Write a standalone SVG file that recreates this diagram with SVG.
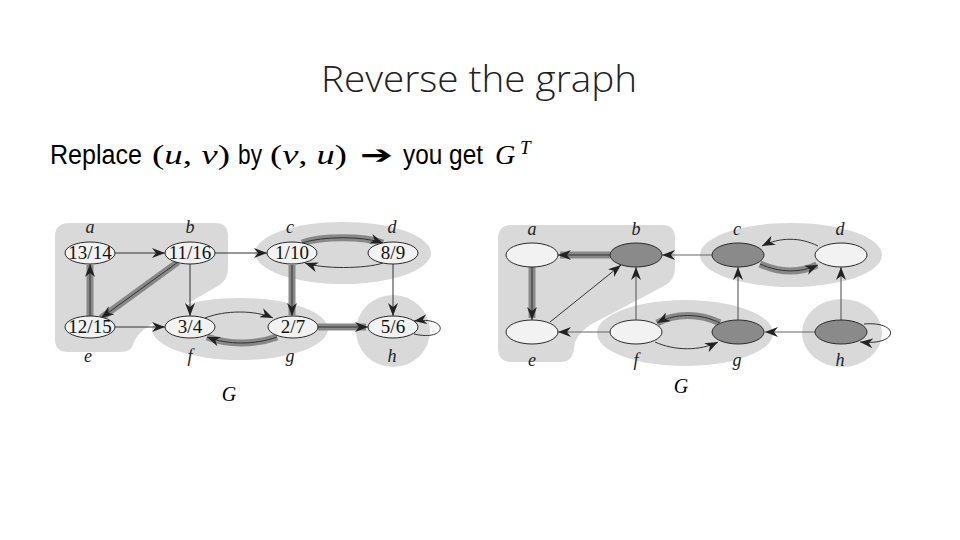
<svg xmlns="http://www.w3.org/2000/svg" width="960" height="540" viewBox="0 0 960 540">
<style>
.region{fill:#d9d9d9;stroke:none}
.nodeL{fill:#f2f2f2;stroke:#2a2a2a;stroke-width:1}
.nodeD{fill:#8a8a8a;stroke:#2a2a2a;stroke-width:1}
.num{font-family:"Liberation Serif",serif;font-size:19px;fill:#111;text-anchor:middle}
.lbl{font-family:"Liberation Serif",serif;font-style:italic;font-size:18px;fill:#222;text-anchor:middle}
.thin{fill:none;stroke:#333;stroke-width:1;marker-end:url(#ah)}
.thinG{fill:none;stroke:#666;stroke-width:1.2;marker-end:url(#ah)}
.band{fill:none;stroke:#888;stroke-width:7;stroke-linecap:butt}
.sans{font-family:"Liberation Sans",Arial,sans-serif;fill:#000}
.math{font-family:"Liberation Serif",serif;fill:#000}
</style>
<defs>
<marker id="ah" markerUnits="userSpaceOnUse" markerWidth="14" markerHeight="10" refX="13" refY="5" orient="auto">
<path d="M0,0 L13,5 L0,10 L4,5 Z" fill="#222"/>
</marker>
</defs>
<rect width="960" height="540" fill="#fff"/>
<text x="479" y="92" text-anchor="middle" font-family="'Open Sans',sans-serif" font-weight="300" font-size="37" fill="#222" textLength="316" lengthAdjust="spacingAndGlyphs">Reverse the graph</text>
<g id="subtitle">
<text x="50" y="164" class="sans" font-size="27" textLength="92" lengthAdjust="spacingAndGlyphs">Replace</text>
<text x="152" y="164" class="math" font-size="27" textLength="78" lengthAdjust="spacingAndGlyphs">(<tspan font-style="italic">u</tspan>, <tspan font-style="italic">v</tspan>)</text>
<text x="238" y="164" class="sans" font-size="27" textLength="24" lengthAdjust="spacingAndGlyphs">by</text>
<text x="270" y="164" class="math" font-size="27" textLength="77" lengthAdjust="spacingAndGlyphs">(<tspan font-style="italic">v</tspan>, <tspan font-style="italic">u</tspan>)</text>
<text x="360" y="164" font-family="'DejaVu Sans',sans-serif" font-size="26" fill="#000" textLength="33" lengthAdjust="spacingAndGlyphs">➔</text>
<text x="403" y="164" class="sans" font-size="27" textLength="80" lengthAdjust="spacingAndGlyphs">you get</text>
<text x="495" y="164" class="math" font-size="28" font-style="italic">G</text>
<text x="520" y="154" class="math" font-size="19" font-style="italic">T</text>
</g>

<!-- Left graph G -->
<g id="regionsG">
<path class="region" d="M70,223 L215,223 Q228,223 228,236 L228,268 Q228,280 218,286 L150,325 Q135,335 133,345 Q131,352 120,352 L68,352 Q55,352 55,339 L55,236 Q55,223 70,223 Z"/>
<ellipse class="region" cx="343" cy="253" rx="88" ry="31"/>
<ellipse class="region" cx="240" cy="329" rx="88" ry="31"/>
<ellipse class="region" cx="393" cy="331" rx="37" ry="36"/>
</g>
<g id="edgesG">
<line class="band" x1="90" y1="316" x2="90" y2="265"/>
<line class="band" x1="178" y1="262" x2="101" y2="318"/>
<path class="band" d="M302,243 C322,236 363,236 383,243"/>
<line class="band" x1="292" y1="265" x2="292" y2="315"/>
<path class="band" d="M277,337 C255,345 228,345 207,337"/>
<line class="band" x1="318" y1="327" x2="366" y2="327"/>
<line class="thin" x1="115" y1="253" x2="165" y2="253"/>
<line class="thin" x1="215" y1="253" x2="267" y2="253"/>
<line class="thin" x1="178" y1="262" x2="101" y2="318"/>
<line class="thin" x1="90" y1="316" x2="90" y2="264"/>
<line class="thin" x1="115" y1="327" x2="165" y2="327"/>
<line class="thin" x1="190" y1="264" x2="190" y2="316"/>
<path class="thin" d="M205,318 C225,310 255,310 273,318"/>
<path class="thin" d="M277,337 C255,345 228,345 207,337"/>
<path class="thin" d="M302,243 C322,236 363,236 383,243"/>
<path class="thin" d="M383,263 C365,269 322,269 305,263"/>
<line class="thin" x1="292" y1="265" x2="292" y2="316"/>
<line class="thin" x1="393" y1="264" x2="393" y2="316"/>
<line class="thin" x1="318" y1="327" x2="368" y2="327"/>
<path class="thin" d="M414,334 C448,342 450,316 414,321"/>
</g>
<g id="Ga"><ellipse class="nodeL" cx="90" cy="253" rx="25" ry="11"/><text class="num" x="90" y="259">13/14</text><text class="lbl" x="90" y="233">a</text></g>
<g id="Gb"><ellipse class="nodeL" cx="190" cy="253" rx="25" ry="11"/><text class="num" x="190" y="259">11/16</text><text class="lbl" x="190" y="233">b</text></g>
<g id="Gc"><ellipse class="nodeL" cx="292" cy="253" rx="25" ry="11"/><text class="num" x="292" y="259">1/10</text><text class="lbl" x="290" y="233">c</text></g>
<g id="Gd"><ellipse class="nodeL" cx="393" cy="253" rx="25" ry="11"/><text class="num" x="393" y="259">8/9</text><text class="lbl" x="392" y="233">d</text></g>
<g id="Ge"><ellipse class="nodeL" cx="90" cy="327" rx="25" ry="11"/><text class="num" x="90" y="333">12/15</text><text class="lbl" x="88" y="362">e</text></g>
<g id="Gf"><ellipse class="nodeL" cx="190" cy="327" rx="25" ry="11"/><text class="num" x="190" y="333">3/4</text><text class="lbl" x="190" y="362">f</text></g>
<g id="Gg"><ellipse class="nodeL" cx="293" cy="327" rx="25" ry="11"/><text class="num" x="293" y="333">2/7</text><text class="lbl" x="290" y="362">g</text></g>
<g id="Gh"><ellipse class="nodeL" cx="393" cy="327" rx="25" ry="11"/><text class="num" x="393" y="333">5/6</text><text class="lbl" x="392" y="362">h</text></g>
<text x="229" y="401" class="math" font-size="20" font-style="italic" text-anchor="middle">G</text>

<!-- Right graph GT -->
<g id="regionsGT">
<path class="region" d="M512,225 L662,225 Q675,225 675,238 L675,268 Q675,280 664,286 L590,325 Q575,335 574,348 Q573,362 560,362 L512,362 Q498,362 498,348 L498,239 Q498,225 512,225 Z"/>
<ellipse class="region" cx="791" cy="255" rx="91" ry="32"/>
<ellipse class="region" cx="685" cy="333" rx="88" ry="33"/>
<ellipse class="region" cx="842" cy="333" rx="40" ry="34"/>
</g>
<g id="edgesGT">
<line class="band" x1="610" y1="255" x2="560" y2="255"/>
<line class="band" x1="532" y1="267" x2="532" y2="318"/>
<path class="band" d="M760,264 C780,273 800,273 817,265"/>
<path class="band" d="M720,323 C700,313 675,313 657,323"/>
<line class="thin" x1="610" y1="255" x2="558" y2="255"/>
<line class="thin" x1="532" y1="267" x2="532" y2="320"/>
<line class="thin" x1="550" y1="322" x2="621" y2="265"/>
<line class="thinG" x1="610" y1="332" x2="558" y2="332"/>
<line class="thinG" x1="636" y1="320" x2="636" y2="267"/>
<line class="thinG" x1="712" y1="255" x2="662" y2="255"/>
<path class="thin" d="M818,246 C800,237 780,237 762,246"/>
<path class="thin" d="M760,264 C780,273 800,273 818,265"/>
<line class="thinG" x1="738" y1="320" x2="738" y2="267"/>
<line class="thinG" x1="841" y1="320" x2="841" y2="267"/>
<line class="thinG" x1="815" y1="332" x2="765" y2="332"/>
<path class="thin" d="M720,323 C700,313 675,313 657,323"/>
<path class="thin" d="M655,342 C675,351 700,351 718,342"/>
<path class="thin" d="M864,324 C900,321 900,346 860,342"/>
</g>
<g id="Ta"><ellipse class="nodeL" cx="532" cy="255" rx="26" ry="12"/><text class="lbl" x="532" y="235">a</text></g>
<g id="Tb"><ellipse class="nodeD" cx="636" cy="255" rx="26" ry="12"/><text class="lbl" x="636" y="235">b</text></g>
<g id="Tc"><ellipse class="nodeD" cx="738" cy="255" rx="26" ry="12"/><text class="lbl" x="737" y="235">c</text></g>
<g id="Td"><ellipse class="nodeL" cx="841" cy="255" rx="26" ry="12"/><text class="lbl" x="840" y="235">d</text></g>
<g id="Te"><ellipse class="nodeL" cx="532" cy="332" rx="26" ry="12"/><text class="lbl" x="532" y="366">e</text></g>
<g id="Tf"><ellipse class="nodeL" cx="636" cy="332" rx="26" ry="12"/><text class="lbl" x="636" y="366">f</text></g>
<g id="Tg"><ellipse class="nodeD" cx="738" cy="332" rx="26" ry="12"/><text class="lbl" x="737" y="366">g</text></g>
<g id="Th"><ellipse class="nodeD" cx="841" cy="332" rx="26" ry="12"/><text class="lbl" x="840" y="366">h</text></g>
<text x="681" y="393" class="math" font-size="20" font-style="italic" text-anchor="middle">G</text>
</svg>
